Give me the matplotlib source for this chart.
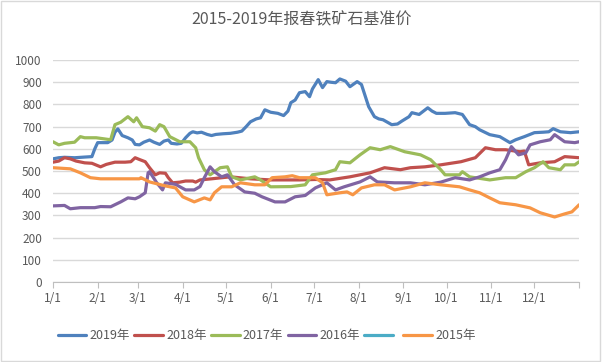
import matplotlib
matplotlib.use('Agg')
import matplotlib.pyplot as plt
from matplotlib.patches import Rectangle

plt.rcParams['font.family'] = ['Noto Sans CJK SC', 'DejaVu Sans']

# day offset from 1/1 and price
days_2019 = [0, 4, 8, 15, 22, 27, 29, 31, 38, 41, 43, 45, 48, 52, 55, 57, 60, 63, 67, 70,
             74, 77, 80, 82, 86, 89, 92, 95, 97, 100, 103, 107, 110, 113, 118, 123, 128, 131,
             134, 137, 141, 144, 147, 151, 156, 160, 163, 165, 168, 171, 175, 178, 180, 184,
             187, 190, 193, 196, 199, 203, 206, 211, 214, 216, 219, 223, 226, 229, 232, 235,
             239, 242, 247, 249, 254, 257, 260, 263, 266, 272, 279, 284, 289, 293, 296, 303,
             310, 317, 321, 327, 334, 340, 344, 347, 352, 359, 365]
vals_2019 = [555, 560, 562, 560, 563, 565, 600, 628, 628, 640, 675, 690, 660, 650, 640, 620,
             618, 630, 640, 630, 620, 635, 640, 625, 622, 625, 650, 670, 677, 672, 675, 665,
             660, 665, 668, 670, 675, 680, 700, 722, 735, 740, 776, 765, 760, 750, 770, 808,
             820, 853, 858, 835, 870, 912, 876, 903, 900, 898, 915, 905, 880, 903, 890, 850,
             790, 745, 735, 731, 720, 709, 712, 725, 745, 763, 755, 770, 785, 770, 760, 760,
             763, 755, 709, 700, 686, 664, 655, 628, 641, 655, 673, 675, 677, 691, 677, 673, 677]

days_2018 = [0, 4, 8, 12, 16, 22, 27, 33, 37, 43, 50, 54, 57, 60, 64, 67, 71, 74, 78, 80,
             83, 88, 92, 97, 99, 102, 110, 123, 137, 151, 165, 171, 182, 192, 206, 220, 230,
             241, 248, 258, 269, 283, 293, 300, 307, 314, 324, 327, 330, 338, 348, 355, 365]
vals_2018 = [540, 545, 560, 555, 545, 537, 535, 519, 530, 540, 540, 542, 560, 552, 542, 515,
             483, 492, 490, 470, 447, 450, 455, 455, 450, 460, 465, 474, 465, 460, 460, 460,
             462, 460, 474, 492, 515, 506, 515, 519, 528, 542, 560, 605, 596, 596, 587, 590,
             528, 537, 542, 565, 560]

days_2017 = [0, 4, 8, 15, 19, 22, 30, 40, 43, 47, 52, 56, 58, 62, 67, 71, 74, 77, 81, 88,
             95, 99, 101, 105, 109, 116, 121, 124, 130, 140, 144, 151, 165, 175, 180, 189,
             196, 199, 206, 213, 220, 227, 234, 244, 255, 262, 269, 272, 282, 284, 289, 303,
             314, 321, 328, 334, 340, 344, 352, 355, 362, 365]
vals_2017 = [632, 618, 625, 630, 655, 650, 650, 641, 709, 720, 745, 722, 740, 700, 695, 680,
             709, 700, 655, 632, 632, 605, 560, 506, 483, 515, 519, 474, 460, 474, 460, 429,
             430, 438, 483, 492, 506, 542, 537, 573, 605, 596, 610, 587, 573, 551, 506, 483,
             483, 497, 474, 460, 470, 470, 497, 515, 542, 515, 506, 528, 528, 542]

days_2016 = [0, 8, 12, 19, 29, 33, 40, 47, 52, 57, 60, 64, 66, 67, 72, 76, 78, 85, 92, 98,
             102, 105, 109, 112, 117, 121, 126, 133, 140, 145, 154, 161, 168, 175, 182, 190,
             196, 202, 213, 220, 225, 237, 248, 258, 269, 279, 289, 296, 303, 310, 314, 318,
             323, 328, 331, 338, 345, 348, 355, 362, 365]
vals_2016 = [343, 345, 330, 335, 335, 340, 339, 361, 379, 375, 384, 402, 492, 497, 447, 415,
             447, 440, 415, 415, 430, 470, 519, 497, 474, 483, 438, 406, 400, 384, 361, 361,
             384, 390, 424, 447, 415, 429, 451, 474, 451, 447, 447, 438, 450, 470, 460, 474,
             492, 506, 551, 610, 573, 582, 618, 632, 641, 664, 632, 628, 632]

days_2015 = [0, 12, 19, 26, 33, 60, 61, 67, 78, 85, 90, 98, 105, 109, 112, 117, 124, 130,
             140, 147, 152, 161, 166, 171, 182, 187, 190, 199, 204, 208, 214, 223, 230, 237,
             248, 258, 269, 282, 289, 296, 303, 310, 321, 331, 338, 348, 355, 360, 365]
vals_2015 = [515, 510, 492, 470, 465, 465, 470, 451, 433, 424, 384, 361, 379, 370, 402, 429,
             429, 447, 438, 438, 470, 474, 479, 470, 470, 447, 393, 402, 406, 393, 424, 438,
             438, 415, 429, 447, 438, 429, 415, 402, 379, 357, 348, 334, 312, 293, 307, 316, 348]

month_days = [0, 31, 59, 90, 120, 151, 181, 212, 243, 273, 304, 334]
month_labels = ['1/1', '2/1', '3/1', '4/1', '5/1', '6/1', '7/1', '8/1', '9/1', '10/1', '11/1', '12/1']

series = [
    ('2019年', days_2019, vals_2019, '#4F81BD'),
    ('2018年', days_2018, vals_2018, '#C0504D'),
    ('2017年', days_2017, vals_2017, '#9BBB59'),
    ('2016年', days_2016, vals_2016, '#8064A2'),
    (' ', [], [], '#4BACC6'),
    ('2015年', days_2015, vals_2015, '#F79646'),
]

fig = plt.figure(figsize=(6.02, 3.62), dpi=100)
fig.patches.append(Rectangle((0.002, 0.003), 0.995, 0.994, transform=fig.transFigure,
                             fill=False, edgecolor='#D9D9D9', linewidth=1))
ax = fig.add_axes([0.088, 0.221, 0.874, 0.613])

for name, d, v, c in series:
    ax.plot(d, v, color=c, linewidth=2.3, label=name, solid_capstyle='round')

ax.set_xlim(0, 365)
ax.set_ylim(0, 1000)
ax.set_yticks(range(0, 1001, 100))
ax.set_xticks(month_days + [365])
ax.set_xticklabels(month_labels + [''])
ax.grid(axis='y', color='#D9D9D9', linewidth=1)
ax.set_axisbelow(True)
for s in ['left', 'right', 'top']:
    ax.spines[s].set_visible(False)
ax.spines['bottom'].set_color('#BFBFBF')
ax.tick_params(axis='y', length=0, labelsize=8.5, labelcolor='#595959', pad=8)
ax.tick_params(axis='x', length=4, color='#BFBFBF', labelsize=8.5, labelcolor='#595959')

fig.text(0.5, 0.945, '2015-2019年报春铁矿石基准价', ha='center', va='center',
         fontsize=11.5, color='#595959')
fig.legend(loc='center left', bbox_to_anchor=(0.077, 0.072), ncol=6, frameon=False,
           fontsize=9, labelcolor='#595959', handlelength=2.3, handletextpad=0.25,
           columnspacing=0.35)

fig.savefig('out.png', dpi=100)
